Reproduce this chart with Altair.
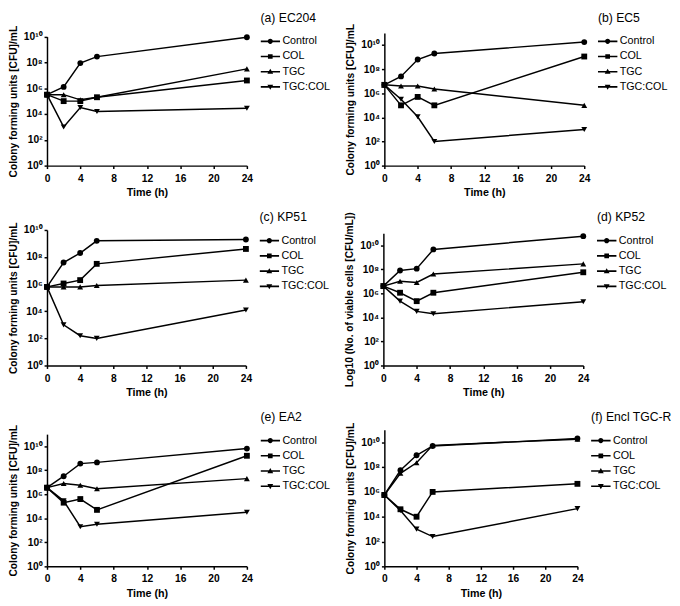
import altair as alt
import pandas as pd

FONT = "Liberation Sans"

TIMES = [0, 2, 4, 6, 24]
SERIES = ["Control", "COL", "TGC", "TGC:COL"]
TITLES = ["(a) EC204", "(b) EC5", "(c) KP51", "(d) KP52", "(e) EA2", "(f) Encl TGC-R"]
YTITLES = [
    "Colony forming units [CFU]/mL",
    "Colony forming units [CFU]/mL",
    "Colony forming units [CFU]/mL",
    "Log10 (No. of viable cells [CFU/mL])",
    "Colony forming units [CFU]/mL",
    "Colony forming units [CFU]/mL",
]
Y_MAX_EXP = [10, 11, 10, 11, 11, 11]
Y_TICKS = [0, 2, 4, 6, 8, 10]
X_TICKS = [0, 4, 8, 12, 16, 20, 24]

# log10(CFU/mL), at TIMES
A_CONTROL = [5.5, 6.1, 7.95, 8.45, 9.95]
A_COL = [5.5, 5.0, 5.0, 5.3, 6.6]
A_TGC = [5.5, 5.5, 5.1, 5.3, 7.5]
A_TGCCOL = [5.5, 3.0, 4.5, 4.2, 4.45]

B_CONTROL = [6.7, 7.4, 8.8, 9.3, 10.25]
B_COL = [6.7, 5.0, 5.7, 5.0, 9.05]
B_TGC = [6.7, 6.6, 6.6, 6.35, 5.0]
B_TGCCOL = [6.7, 5.5, 4.05, 2.0, 3.0]

C_CONTROL = [5.8, 7.6, 8.3, 9.2, 9.3]
C_COL = [5.8, 6.05, 6.3, 7.5, 8.6]
C_TGC = [5.8, 5.8, 5.8, 5.9, 6.3]
C_TGCCOL = [5.8, 3.0, 2.2, 2.0, 4.1]

D_CONTROL = [6.6, 7.9, 8.05, 9.65, 10.75]
D_COL = [6.6, 6.05, 5.35, 6.05, 7.75]
D_TGC = [6.6, 7.0, 6.9, 7.6, 8.45]
D_TGCCOL = [6.6, 5.35, 4.5, 4.3, 5.3]

E_CONTROL = [6.55, 7.5, 8.55, 8.65, 9.8]
E_COL = [6.55, 5.3, 5.6, 4.7, 9.2]
E_TGC = [6.55, 6.9, 6.75, 6.45, 7.3]
E_TGCCOL = [6.55, 5.45, 3.3, 3.5, 4.5]

F_CONTROL = [5.75, 7.75, 8.95, 9.7, 10.3]
F_COL = [5.75, 4.6, 4.0, 6.0, 6.65]
F_TGC = [5.75, 7.5, 8.35, 9.75, 10.25]
F_TGCCOL = [5.75, 4.5, 3.0, 2.4, 4.65]

PANEL_DATA = [
    [A_CONTROL, A_COL, A_TGC, A_TGCCOL],
    [B_CONTROL, B_COL, B_TGC, B_TGCCOL],
    [C_CONTROL, C_COL, C_TGC, C_TGCCOL],
    [D_CONTROL, D_COL, D_TGC, D_TGCCOL],
    [E_CONTROL, E_COL, E_TGC, E_TGCCOL],
    [F_CONTROL, F_COL, F_TGC, F_TGCCOL],
]

SHAPES = ["circle", "square", "triangle-up", "triangle-down"]
BAR = " M-1,-0.085H1V0.085H-1Z"
LEG_PATHS = [
    "M-0.27,0A0.27,0.27 0 1,1 0.27,0A0.27,0.27 0 1,1 -0.27,0Z" + BAR,
    "M-0.24,-0.24H0.24V0.24H-0.24Z" + BAR,
    "M0,-0.3L0.3,0.22H-0.3Z" + BAR,
    "M-0.3,-0.22H0.3L0,0.3Z" + BAR,
]

SUP = "['\u2070','\u00b9','\u00b2','\u00b3','\u2074','\u2075','\u2076','\u2077','\u2078','\u2079']"
LABEL_EXPR = "datum.value == 10 ? '10\u00b9\u2070' : '10' + " + SUP + "[datum.value]"

# layout per panel: (width, height, y-range top offset, legendY)
LAYOUT = [
    (205, 136, 3.7, -21.5),
    (205, 136, 0, -21.5),
    (204, 139, 0, -19),
    (205, 139, 3.3, -19),
    (205, 140, 4.4, -19),
    (198, 140, 0, -19),
]


def panel(i):
    width, height, top, legend_y = LAYOUT[i]
    rows = []
    for s, vals in zip(SERIES, PANEL_DATA[i]):
        for t, v in zip(TIMES, vals):
            rows.append({"time": t, "series": s, "logcfu": v})
    df = pd.DataFrame(rows)
    x = alt.X(
        "time:Q",
        scale=alt.Scale(domain=[0, 24], nice=False, zero=False),
        axis=alt.Axis(values=X_TICKS, title="Time (h)"),
    )
    y = alt.Y(
        "logcfu:Q",
        scale=alt.Scale(domain=[0, Y_MAX_EXP[i]], nice=False, range=[height, top]),
        axis=alt.Axis(values=Y_TICKS, labelExpr=LABEL_EXPR, title=YTITLES[i]),
    )
    base = alt.Chart(df)
    line = base.mark_line(color="black", strokeWidth=1.5).encode(
        x=x, y=y, detail="series:N"
    )
    pts = base.mark_point(filled=True, color="black", size=36, opacity=1).encode(
        x=x,
        y=y,
        shape=alt.Shape(
            "series:N", scale=alt.Scale(domain=SERIES, range=SHAPES), legend=None
        ),
    )
    leg = (
        base.transform_filter("false")
        .mark_point(filled=True, color="black", opacity=1)
        .encode(
            shape=alt.Shape(
                "series:N",
                scale=alt.Scale(domain=SERIES, range=LEG_PATHS),
                legend=alt.Legend(
                    title=TITLES[i],
                    orient="none",
                    legendX=width + 14,
                    legendY=legend_y,
                ),
            )
        )
    )
    return (
        alt.layer(line, pts, leg)
        .resolve_scale(shape="independent")
        .properties(width=width, height=height)
    )


rows = []
for r in range(3):
    rows.append(
        alt.hconcat(panel(2 * r), panel(2 * r + 1), spacing=15)
        .resolve_scale(shape="independent", x="independent", y="independent")
        .resolve_legend(shape="independent")
    )

chart = (
    alt.vconcat(*rows, spacing=14)
    .resolve_scale(shape="independent", x="independent", y="independent")
    .resolve_legend(shape="independent")
    .properties(padding={"top": -4, "left": 0, "right": 0, "bottom": 0}, background="white")
    .configure_view(stroke=None)
    .configure_axis(
        grid=False,
        domainColor="black",
        domainWidth=1.5,
        tickColor="black",
        tickWidth=1.5,
        tickSize=3,
        labelFont=FONT,
        labelFontWeight="bold",
        labelFontSize=10.5,
        labelColor="black",
        labelPadding=2,
        titleFont=FONT,
        titleFontWeight="bold",
        titleFontSize=10.5,
        titleColor="black",
    )
    .configure_axisX(labelPadding=5, titlePadding=3, labelFlush=False, titleFontSize=11)
    .configure_axisY(titlePadding=5, labelFlush=False)
    .configure_legend(
        padding=0,
        titleFont=FONT,
        titleFontSize=12.5,
        titleFontWeight="normal",
        titleColor="black",
        titlePadding=11,
        titleLimit=200,
        labelFont=FONT,
        labelFontSize=11,
        labelColor="black",
        labelOffset=2.4,
        symbolSize=400,
        symbolFillColor="black",
        symbolStrokeWidth=0,
        symbolOpacity=1,
        clipHeight=13,
        rowPadding=2.6,
    )
)

chart.save("out.html", embed_options={"renderer": "svg", "actions": False})
